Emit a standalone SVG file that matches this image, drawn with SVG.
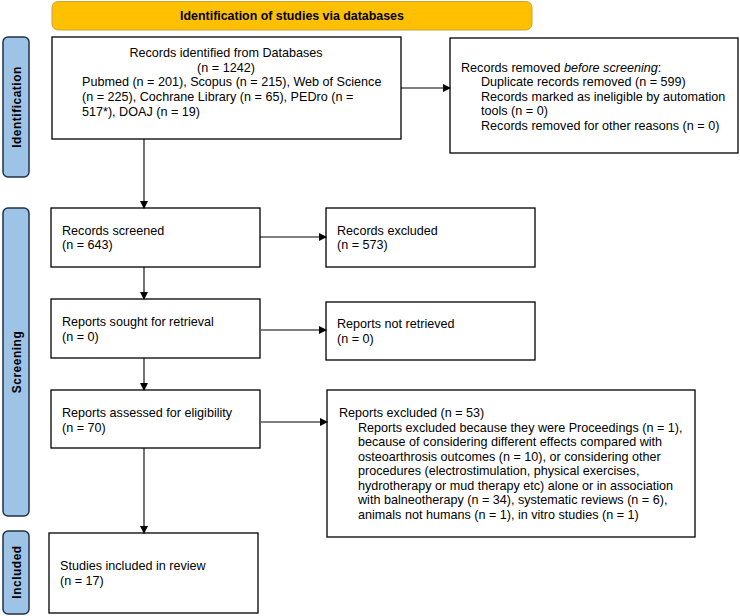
<svg xmlns="http://www.w3.org/2000/svg" width="740" height="616" viewBox="0 0 740 616">
<style>
.box{fill:#fff;stroke:#000;stroke-width:1.3}
.side{fill:#9DC3E6;stroke:#22324a;stroke-width:1.5}
.t{font-family:"Liberation Sans",Arial,sans-serif;font-size:12.6px;fill:#000}
.st{font-family:"Liberation Sans",Arial,sans-serif;font-size:12px;font-weight:bold;fill:#000;letter-spacing:0.5px}
.hd{font-family:"Liberation Sans",Arial,sans-serif;font-size:12.4px;font-weight:bold;fill:#000}
.c{stroke:#000;stroke-width:1.1;fill:none}
</style>
<defs>
<marker id="ah" markerWidth="8" markerHeight="8" refX="7" refY="4" orient="auto" markerUnits="userSpaceOnUse">
<path d="M0,0 L8,4 L0,8 Z" fill="#000"/>
</marker>
</defs>
<g id="header">
<rect x="52" y="1.5" width="480" height="28.5" rx="6" fill="#FFC000" stroke="#C8A23C" stroke-width="1"/>
<text class="hd" x="292" y="20" text-anchor="middle">Identification of studies via databases</text>
</g>
<g id="side-identification">
<rect class="side" x="3" y="37" width="26" height="140" rx="5"/>
<text class="st" transform="translate(20.5,107) rotate(-90)" text-anchor="middle">Identification</text>
</g>
<g id="side-screening">
<rect class="side" x="3" y="208" width="26" height="308" rx="5"/>
<text class="st" transform="translate(20.5,362) rotate(-90)" text-anchor="middle">Screening</text>
</g>
<g id="side-included">
<rect class="side" x="3" y="531" width="26" height="83" rx="5"/>
<text class="st" transform="translate(20.5,572) rotate(-90)" text-anchor="middle">Included</text>
</g>
<g id="identified">
<rect class="box" x="52" y="37" width="349" height="102"/>
<text class="t" x="226" y="57" text-anchor="middle">Records identified from Databases</text>
<text class="t" x="226" y="72" text-anchor="middle">(n = 1242)</text>
<text class="t" x="82" y="86">Pubmed (n = 201), Scopus (n = 215), Web of Science</text>
<text class="t" x="82" y="101">(n = 225), Cochrane Library (n = 65), PEDro (n =</text>
<text class="t" x="82" y="116">517*), DOAJ (n = 19)</text>
</g>
<g id="removed">
<rect class="box" x="450" y="38" width="288" height="115"/>
<text class="t" x="461" y="72">Records removed <tspan font-style="italic">before screening</tspan>:</text>
<text class="t" x="481" y="86">Duplicate records removed (n = 599)</text>
<text class="t" x="481" y="101">Records marked as ineligible by automation</text>
<text class="t" x="481" y="115">tools (n = 0)</text>
<text class="t" x="481" y="130">Records removed for other reasons (n = 0)</text>
</g>
<g id="screened">
<rect class="box" x="51" y="208" width="209" height="59"/>
<text class="t" x="62" y="235">Records screened</text>
<text class="t" x="62" y="249">(n = 643)</text>
</g>
<g id="excluded">
<rect class="box" x="326" y="208" width="209" height="59"/>
<text class="t" x="337" y="235">Records excluded</text>
<text class="t" x="337" y="249">(n = 573)</text>
</g>
<g id="sought">
<rect class="box" x="51" y="299" width="209" height="59"/>
<text class="t" x="62" y="326">Reports sought for retrieval</text>
<text class="t" x="62" y="341">(n = 0)</text>
</g>
<g id="notretrieved">
<rect class="box" x="326" y="302" width="209" height="58"/>
<text class="t" x="337" y="328">Reports not retrieved</text>
<text class="t" x="337" y="343">(n = 0)</text>
</g>
<g id="assessed">
<rect class="box" x="51" y="390" width="209" height="58"/>
<text class="t" x="62" y="417">Reports assessed for eligibility</text>
<text class="t" x="62" y="432">(n = 70)</text>
</g>
<g id="reportsexcluded">
<rect class="box" x="327" y="390" width="368" height="147"/>
<text class="t" x="339" y="417">Reports excluded (n = 53)</text>
<text class="t" x="358" y="432">Reports excluded because they were Proceedings (n = 1),</text>
<text class="t" x="358" y="446">because of considering different effects compared with</text>
<text class="t" x="358" y="461">osteoarthrosis outcomes (n = 10), or considering other</text>
<text class="t" x="358" y="475">procedures (electrostimulation, physical exercises,</text>
<text class="t" x="358" y="490">hydrotherapy or mud therapy etc) alone or in association</text>
<text class="t" x="358" y="504">with balneotherapy (n = 34), systematic reviews (n = 6),</text>
<text class="t" x="358" y="519">animals not humans (n = 1), in vitro studies (n = 1)</text>
</g>
<g id="included">
<rect class="box" x="49" y="533" width="209" height="80"/>
<text class="t" x="60" y="570">Studies included in review</text>
<text class="t" x="60" y="585">(n = 17)</text>
</g>
<g id="connectors">
<line class="c" x1="401" y1="88" x2="450" y2="88" marker-end="url(#ah)"/>
<line class="c" x1="144" y1="139" x2="144" y2="208" marker-end="url(#ah)"/>
<line class="c" x1="260" y1="237" x2="326" y2="237" marker-end="url(#ah)"/>
<line class="c" x1="144" y1="267" x2="144" y2="299" marker-end="url(#ah)"/>
<line class="c" x1="261" y1="330" x2="326" y2="330" marker-end="url(#ah)"/>
<line class="c" x1="144" y1="358" x2="144" y2="390" marker-end="url(#ah)"/>
<line class="c" x1="261" y1="422" x2="327" y2="422" marker-end="url(#ah)"/>
<line class="c" x1="144" y1="448" x2="144" y2="533" marker-end="url(#ah)"/>
</g>
</svg>
